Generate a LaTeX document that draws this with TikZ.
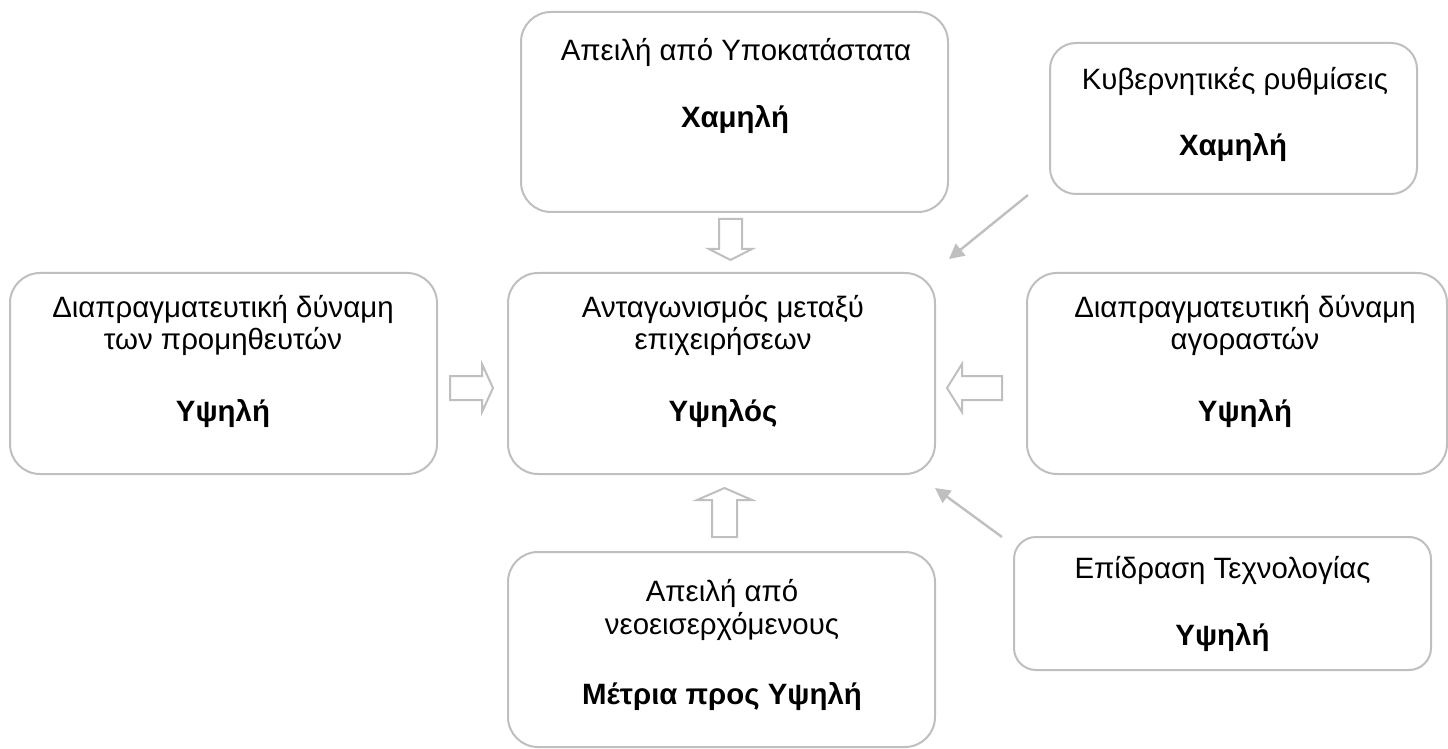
\documentclass[tikz,border=0pt]{standalone}
\usepackage{fontspec}
\setmainfont{Liberation Sans}
\usetikzlibrary{arrows.meta}
\definecolor{frame}{RGB}{191,191,191}
\begin{document}
\begin{tikzpicture}[x=0.5pt,y=-0.5pt,
  box/.style={draw=frame, line width=1pt, fill=white, inner sep=0pt},
  lbl/.style={anchor=base, inner sep=0pt, font=\fontsize{14.7}{17}\selectfont},
  val/.style={anchor=base, inner sep=0pt, font=\fontsize{14.7}{17}\selectfont\bfseries},
  hollow/.style={draw=frame, line width=1pt, fill=white, line join=miter},
  pointer/.style={draw=frame, line width=1.2pt, -{Triangle[length=7.5pt,width=7.5pt]}}]
\useasboundingbox (0,0) rectangle (1448,749);

% the seven factor boxes
\node[box, rounded corners=15pt, minimum width=213.5pt, minimum height=100pt] (subst) at (734.5,112) {};
\node[box, rounded corners=13pt, minimum width=183.5pt, minimum height=75.5pt] (gov) at (1233.5,118.5) {};
\node[box, rounded corners=15pt, minimum width=213.5pt, minimum height=100.5pt] (supp) at (223.5,373.5) {};
\node[box, rounded corners=15pt, minimum width=213.5pt, minimum height=100.5pt] (riv) at (721.5,373.5) {};
\node[box, rounded corners=15pt, minimum width=210pt, minimum height=100.5pt] (buy) at (1237,373.5) {};
\node[box, rounded corners=15pt, minimum width=213.5pt, minimum height=97.5pt] (entr) at (721.5,649.5) {};
\node[box, rounded corners=11pt, minimum width=208.5pt, minimum height=66.5pt] (tech) at (1222.5,603.5) {};

% texts
\node[lbl] (substA) at (736,61) {Απειλή από Υποκατάστατα};
\node[val] (substB) at (735,128) {Χαμηλή};
\node[lbl] (govA) at (1235,90) {Κυβερνητικές ρυθμίσεις};
\node[val] (govB) at (1233,156) {Χαμηλή};
\node[lbl] (suppA) at (223,317) {Διαπραγματευτική δύναμη};
\node[lbl] (suppB) at (223,350) {των προμηθευτών};
\node[val] (suppC) at (223,421) {Υψηλή};
\node[lbl] (rivA) at (723,317) {Ανταγωνισμός μεταξύ};
\node[lbl] (rivB) at (723,350) {επιχειρήσεων};
\node[val] (rivC) at (723,421) {Υψηλός};
\node[lbl] (buyA) at (1245,317) {Διαπραγματευτική δύναμη};
\node[lbl] (buyB) at (1245,350) {αγοραστών};
\node[val] (buyC) at (1245,421) {Υψηλή};
\node[lbl] (entrA) at (722,601) {Απειλή από};
\node[lbl] (entrB) at (722,634) {νεοεισερχόμενους};
\node[val] (entrC) at (722,704) {Μέτρια προς Υψηλή};
\node[lbl] (techA) at (1222.5,578) {Επίδραση Τεχνολογίας};
\node[val] (techB) at (1222.5,645) {Υψηλή};

% hollow block arrows into the central box
\draw[hollow] (719,219) -- (742,219) -- (742,249) -- (752,249) -- (730.5,260)
  -- (709,249) -- (719,249) -- cycle;
\draw[hollow] (450,376) -- (482,376) -- (482,364) -- (493,388) -- (482,412)
  -- (482,400) -- (450,400) -- cycle;
\draw[hollow] (1002,376) -- (962,376) -- (962,364) -- (947,388) -- (962,412)
  -- (962,400) -- (1002,400) -- cycle;
\draw[hollow] (712,537) -- (712,500) -- (697,500) -- (724.5,488) -- (752,500)
  -- (737,500) -- (737,537) -- cycle;

% thin pointers from the external factors
\coordinate (govFrom) at (1028,195);
\coordinate (govTo) at (949,259);
\coordinate (techFrom) at (1002,537);
\coordinate (techTo) at (935,488);
\draw[pointer] (govFrom) -- (govTo);
\draw[pointer] (techFrom) -- (techTo);
\end{tikzpicture}
\end{document}
